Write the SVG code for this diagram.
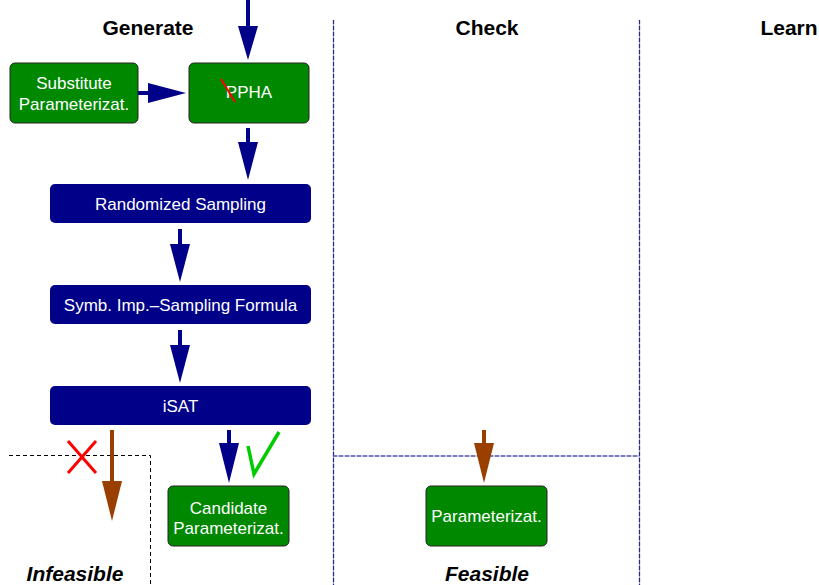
<svg xmlns="http://www.w3.org/2000/svg" width="819" height="585" viewBox="0 0 819 585">
<style>
.hdr{font-family:"Liberation Sans",Arial,sans-serif;font-size:21px;font-weight:bold;fill:#000;text-anchor:middle}
.lbl{font-family:"Liberation Sans",Arial,sans-serif;font-size:17px;fill:#fff;text-anchor:middle}
.g{fill:#008800;stroke:#222;stroke-width:1}
.b{fill:#000088;stroke:none}
.lane{stroke:#2a2a80;stroke-width:1.2;stroke-dasharray:4,2;fill:none}
.lane2{stroke:#9999dd;stroke-width:1.2;fill:none}
.blk{stroke:#000;stroke-width:1;stroke-dasharray:4,3;fill:none}
.sb{stroke:#000088;stroke-width:4;fill:none}
.sr{stroke:#993f00;stroke-width:4;fill:none}
</style>
<rect width="819" height="585" fill="#fff"/>
<g id="lanes">
<line class="lane2" x1="333.5" y1="20" x2="333.5" y2="585"/>
<line class="lane" x1="333.5" y1="20" x2="333.5" y2="585"/>
<line class="lane2" x1="639.5" y1="20" x2="639.5" y2="585"/>
<line class="lane" x1="639.5" y1="20" x2="639.5" y2="585"/>
<line class="lane2" x1="333" y1="456" x2="639" y2="456"/>
<line class="lane" x1="333" y1="456" x2="639" y2="456"/>
<polyline class="blk" points="9,455.5 150.5,455.5 150.5,585"/>
</g>
<g id="headers">
<text class="hdr" x="148" y="35">Generate</text>
<text class="hdr" x="487" y="35">Check</text>
<text class="hdr" x="789" y="35">Learn</text>
<text class="hdr" x="75" y="581" font-style="italic">Infeasible</text>
<text class="hdr" x="487" y="581" font-style="italic">Feasible</text>
</g>
<g id="connectors">
<line class="sb" x1="248" y1="0" x2="248" y2="30"/>
<polygon class="b" points="238,26 258,26 248,60"/>
<line class="sb" x1="132" y1="93" x2="152" y2="93"/>
<polygon class="b" points="148,83 148,103 186,93"/>
<line class="sb" x1="248" y1="128" x2="248" y2="146"/>
<polygon class="b" points="238,142 258,142 248,180"/>
<line class="sb" x1="180" y1="229" x2="180" y2="248"/>
<polygon class="b" points="170,244 190,244 180,282"/>
<line class="sb" x1="180" y1="330" x2="180" y2="349"/>
<polygon class="b" points="170,345 190,345 180,383"/>
<line class="sb" x1="229" y1="430" x2="229" y2="447"/>
<polygon class="b" points="219,443 239,443 229,483"/>
<line class="sr" x1="112" y1="430" x2="112" y2="485"/>
<polygon fill="#993f00" points="102,481 122,481 112,521"/>
<line class="sr" x1="484" y1="430" x2="484" y2="447"/>
<polygon fill="#993f00" points="474,443 494,443 484,483"/>
</g>
<g id="marks">
<path d="M68,441 L96,473 M96,441 L68,473" stroke="#ff0000" stroke-width="3" fill="none"/>
<path d="M248,446 L254,474 L279,432" stroke="#00cc00" stroke-width="3.5" fill="none"/>
</g>
<g id="substitute">
<rect class="g" x="10" y="63" width="128" height="60" rx="5"/>
<text class="lbl" x="74" y="89">Substitute</text>
<text class="lbl" x="74" y="110">Parameterizat.</text>
</g>
<g id="ppha">
<rect class="g" x="189" y="63" width="120" height="60" rx="5"/>
<text class="lbl" x="249" y="98">PPHA</text>
<line x1="221" y1="79" x2="235" y2="102" stroke="#ff0000" stroke-width="2"/>
</g>
<g id="randomized">
<rect class="b" x="50" y="184" width="261" height="39" rx="5"/>
<text class="lbl" x="180.5" y="210">Randomized Sampling</text>
</g>
<g id="symb">
<rect class="b" x="50" y="285" width="261" height="39" rx="5"/>
<text class="lbl" x="180.5" y="311">Symb. Imp.–Sampling Formula</text>
</g>
<g id="isat">
<rect class="b" x="50" y="386" width="261" height="39" rx="5"/>
<text class="lbl" x="180.5" y="412">iSAT</text>
</g>
<g id="candidate">
<rect class="g" x="168" y="486" width="121" height="60" rx="5"/>
<text class="lbl" x="228.5" y="514">Candidate</text>
<text class="lbl" x="228.5" y="534">Parameterizat.</text>
</g>
<g id="param">
<rect class="g" x="426" y="486" width="121" height="60" rx="5"/>
<text class="lbl" x="486.5" y="522">Parameterizat.</text>
</g>
</svg>
